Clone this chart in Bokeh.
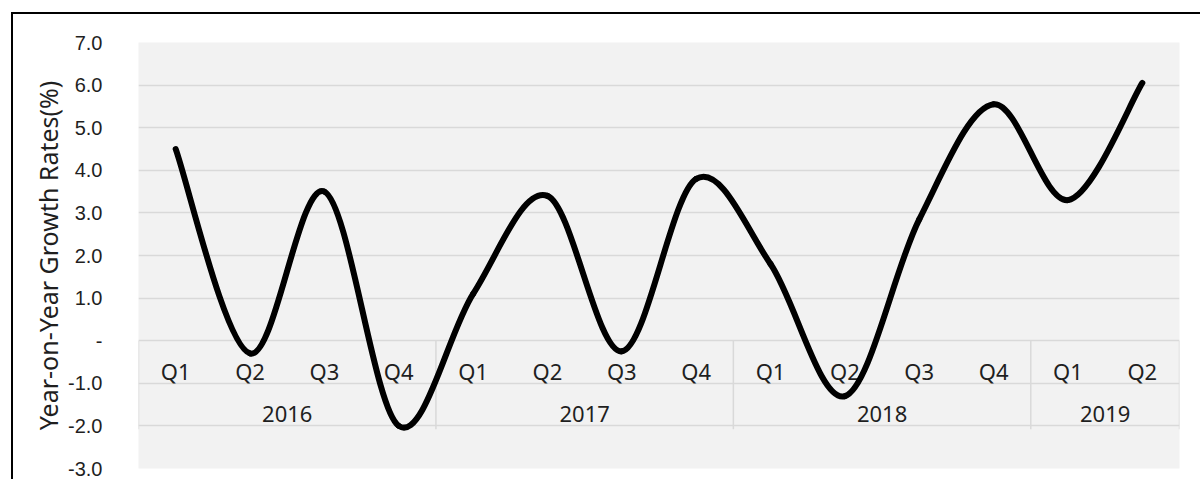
import numpy as np
from bokeh.plotting import figure
from bokeh.models import Range1d, FixedTicker, PrintfTickFormatter, ColumnDataSource
from bokeh.core.properties import value
from bokeh.embed import file_html
from bokeh.resources import INLINE

# Quarterly year-on-year growth, grouped by year
years = ["2016", "2017", "2018", "2019"]
quarters_per_year = [4, 4, 4, 2]
quarters = ["Q1", "Q2", "Q3", "Q4",
            "Q1", "Q2", "Q3", "Q4",
            "Q1", "Q2", "Q3", "Q4",
            "Q1", "Q2"]
growth = [4.5, -0.3, 3.5, -2.0,
          1.1, 3.4, -0.25, 3.8,
          1.8, -1.3, 2.85, 5.55,
          3.3, 6.05]
y_ticks = [-3, -2, -1, 0, 1, 2, 3, 4, 5, 6, 7]

FONT = "Noto Sans"
TICK_FONT = "Liberation Sans"
TEXT = "#1f1f1f"
GRID = "#d9d9d9"

n = len(growth)
xs = np.arange(n) + 0.5
ys = np.array(growth, dtype=float)

p = figure(width=1189, height=467, output_backend="svg", toolbar_location=None,
           x_range=Range1d(0, n), y_range=Range1d(y_ticks[0], y_ticks[-1]),
           min_border_left=125, min_border_right=23, min_border_top=28, min_border_bottom=13)
p.background_fill_color = "#f2f2f2"
p.border_fill_color = "white"
p.outline_line_color = None
# chart border drawn around the whole figure
p.styles = {"margin-left": "11px", "margin-top": "12px",
            "border-left": "2px solid black", "border-top": "2px solid black"}

# horizontal gridlines
p.xgrid.visible = False
p.ygrid.ticker = FixedTicker(ticks=y_ticks)
p.ygrid.grid_line_color = GRID
p.ygrid.grid_line_width = 1.5

# value axis
p.xaxis.visible = False
ax = p.yaxis[0]
ax.ticker = FixedTicker(ticks=y_ticks)
ax.formatter = PrintfTickFormatter(format="%.1f")
ax.major_label_overrides = {0: "-"}
ax.axis_line_color = None
ax.major_tick_line_color = None
ax.minor_tick_line_color = None
ax.major_label_standoff = 30
ax.major_label_text_font = TICK_FONT
ax.major_label_text_font_size = "20px"
ax.major_label_text_color = TEXT
ax.axis_label = "Year-on-Year Growth Rates(%)"
ax.axis_label_text_font = FONT
ax.axis_label_text_font_size = "25px"
ax.axis_label_text_font_style = "normal"
ax.axis_label_text_color = TEXT
ax.axis_label_standoff = 0

# category boxes: separators at year boundaries
bounds = np.concatenate([[0], np.cumsum(quarters_per_year)])
p.segment(x0=bounds, y0=0, x1=bounds, y1=-2.08, line_color=GRID, line_width=1.5)

# quarter and year labels sitting under the zero line
p.text(x=xs, y=-0.71, text=quarters, text_align="center", text_baseline="middle",
       text_font=value(FONT), text_font_size="22px", text_color=TEXT)
year_mid = (bounds[:-1] + bounds[1:]) / 2
p.text(x=year_mid, y=-1.73, text=years, text_align="center", text_baseline="middle",
       text_font=value(FONT), text_font_size="22px", text_color=TEXT)

# smoothed line through the data (Catmull-Rom style Bezier segments)
px = np.concatenate([[xs[0]], xs, [xs[-1]]])
py = np.concatenate([[ys[0]], ys, [ys[-1]]])
seg = dict(x0=[], y0=[], x1=[], y1=[], cx0=[], cy0=[], cx1=[], cy1=[])
for i in range(n - 1):
    x0, x1, x2, x3 = px[i], px[i + 1], px[i + 2], px[i + 3]
    y0, y1, y2, y3 = py[i], py[i + 1], py[i + 2], py[i + 3]
    seg["x0"].append(x1); seg["y0"].append(y1)
    seg["x1"].append(x2); seg["y1"].append(y2)
    seg["cx0"].append(x1 + (x2 - x0) / 6); seg["cy0"].append(y1 + (y2 - y0) / 6)
    seg["cx1"].append(x2 - (x3 - x1) / 6); seg["cy1"].append(y2 - (y3 - y1) / 6)
p.bezier(x0="x0", y0="y0", x1="x1", y1="y1", cx0="cx0", cy0="cy0", cx1="cx1", cy1="cy1",
         source=ColumnDataSource(seg), line_color="black", line_width=6, line_cap="round")

open("out.html", "w").write(file_html(p, INLINE))
